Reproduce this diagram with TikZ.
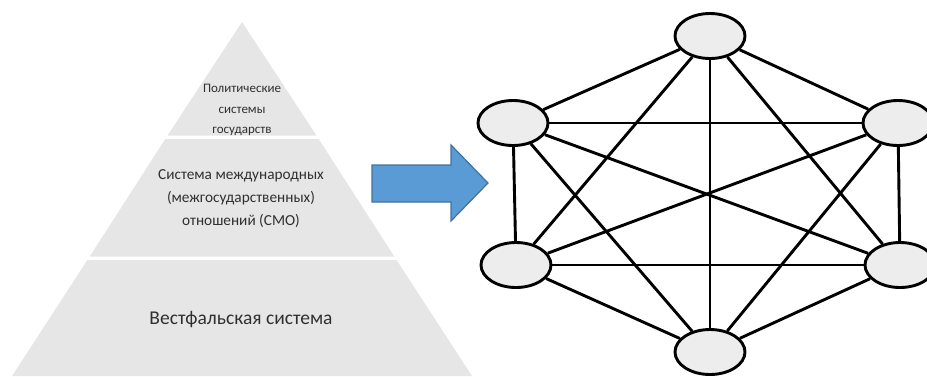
\documentclass[tikz,border=0pt]{standalone}
\usepackage{fontspec}
\setmainfont{Carlito}
\usetikzlibrary{shapes.geometric}
\definecolor{tier}{HTML}{E6E6E6}
\definecolor{tiertext}{HTML}{303030}
\definecolor{arrowfill}{HTML}{5B9BD5}
\definecolor{arrowline}{HTML}{41719C}
\definecolor{nodefill}{HTML}{EDEDED}
\tikzset{
  state/.style={ellipse, draw=black, line width=2.9pt, fill=nodefill, minimum width=70pt, minimum height=45pt, inner sep=0pt},
  link/.style={line width=2.9pt, draw=black},
  toptext/.style={text=tiertext, font=\fontsize{13}{20.5}\selectfont, align=center},
  midtext/.style={text=tiertext, font=\fontsize{15.3}{23}\selectfont, align=center},
  basetext/.style={text=tiertext, font=\fontsize{19.5}{22}\selectfont, align=center}
}
\begin{document}
\begin{tikzpicture}[x=1pt,y=-1pt]
\useasboundingbox (0,0) rectangle (927,376);
\clip (0,0) rectangle (927,376);
% pyramid tiers
\fill[tier] (242,22) -- (167.5,135.5) -- (316.5,135.5) -- cycle;
\fill[tier] (165.3,139) -- (318.7,139) -- (394.3,256.5) -- (89.7,256.5) -- cycle;
\fill[tier] (87.4,260) -- (396.6,260) -- (472,376) -- (12,376) -- cycle;
\node[toptext] (toplabel) at (242,110) {Политические\\системы\\государств};
\node[midtext] (midlabel) at (241,199) {Система международных\\(межгосударственных)\\отношений (СМО)};
\node[basetext] (baselabel) at (241,320) {Вестфальская система};
% arrow
\fill[arrowfill, draw=arrowline, line width=1.2pt, line join=miter]
  (372,165) -- (451,165) -- (451,145) -- (488,183) -- (451,221) -- (451,202) -- (372,202) -- cycle;
% graph
\node[state] (t)  at (710,36) {};
\node[state] (ul) at (513,123) {};
\node[state] (ur) at (898,123) {};
\node[state] (ll) at (516,265) {};
\node[state] (lr) at (900,265) {};
\node[state] (b)  at (710,352) {};
\foreach \a/\b in {t/ul,t/ur,t/ll,t/lr,t/b,ul/ur,ul/ll,ul/lr,ul/b,ur/ll,ur/lr,ur/b,ll/lr,ll/b,lr/b}
  \draw[link] (\a) -- (\b);
\end{tikzpicture}
\end{document}
